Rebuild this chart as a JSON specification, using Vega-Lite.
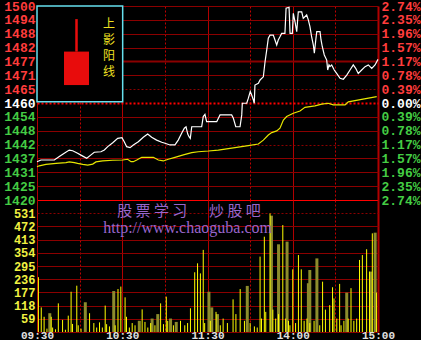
{
  "$schema": "https://vega.github.io/schema/vega-lite/v6.json",
  "background": "#000000",
  "padding": {"left": 0, "top": 0, "right": 0, "bottom": 0},
  "spacing": 0,
  "bounds": "flush",
  "config": {
    "view": {"stroke": null},
    "axis": {
      "domain": false,
      "ticks": false,
      "title": null,
      "labelFont": "Liberation Mono",
      "labelFontWeight": "bold",
      "labelFontSize": 13,
      "labelPadding": 2,
      "labelOverlap": false,
      "labelBound": false,
      "labelFlush": false,
      "tickCount": 60,
      "gridColor": "#8b0000",
      "gridOpacity": 1
    }
  },
  "datasets": {
    "price": [
      {"t":0,"p":1435.8},{"t":2.8,"p":1436.5},{"t":12.2,"p":1436.5},{"t":15.7,"p":1437.9},{"t":19.2,"p":1439.3},{"t":22.7,"p":1440.6},{"t":25.1,"p":1440.3},{"t":28.6,"p":1439.3},{"t":32.2,"p":1438.1},{"t":35.0,"p":1437.2},{"t":38.0,"p":1438.6},{"t":40.3,"p":1439.7},{"t":45.0,"p":1439.9},{"t":47.4,"p":1440.6},{"t":49.8,"p":1442.0},{"t":53.3,"p":1443.6},{"t":56.8,"p":1445.4},{"t":59.8,"p":1445.7},{"t":61.4,"p":1444.0},{"t":63.1,"p":1442.0},{"t":65.5,"p":1441.6},{"t":67.8,"p":1442.7},{"t":71.3,"p":1444.0},{"t":74.8,"p":1445.9},{"t":77.9,"p":1447.2},{"t":80.7,"p":1445.9},{"t":84.2,"p":1444.7},{"t":87.8,"p":1443.8},{"t":90.1,"p":1443.4},{"t":93.6,"p":1442.7},{"t":97.1,"p":1442.7},{"t":99.4,"p":1444.7},{"t":101.8,"p":1447.5},{"t":103.7,"p":1449.6},{"t":104.9,"p":1450.2},{"t":106.1,"p":1447.2},{"t":107.0,"p":1446.1},{"t":107.9,"p":1445.4},{"t":108.9,"p":1450.2},{"t":115.9,"p":1450.2},{"t":117.0,"p":1454.4},{"t":118.2,"p":1455.3},{"t":119.4,"p":1452.3},{"t":126.5,"p":1452.3},{"t":128.8,"p":1455.1},{"t":137.0,"p":1455.1},{"t":138.2,"p":1453.7},{"t":139.9,"p":1450.2},{"t":142.9,"p":1450.2},{"t":144.1,"p":1455.1},{"t":144.5,"p":1459.9},{"t":147.6,"p":1459.9},{"t":148.7,"p":1461.9},{"t":150.1,"p":1464.7},{"t":151.1,"p":1463.3},{"t":152.3,"p":1461.2},{"t":152.9,"p":1459.9},{"t":153.4,"p":1467.4},{"t":155.8,"p":1468.1},{"t":157.0,"p":1469.5},{"t":159.3,"p":1470.8},{"t":160.5,"p":1477.0},{"t":161.7,"p":1481.9},{"t":162.8,"p":1486.7},{"t":164.0,"p":1488.0},{"t":166.3,"p":1488.0},{"t":167.5,"p":1486.0},{"t":168.7,"p":1483.9},{"t":169.8,"p":1486.0},{"t":171.0,"p":1487.3},{"t":172.2,"p":1488.7},{"t":174.5,"p":1488.7},{"t":175.3,"p":1499.1},{"t":177.4,"p":1499.5},{"t":178.1,"p":1488.7},{"t":179.7,"p":1488.7},{"t":180.4,"p":1497.0},{"t":181.6,"p":1493.5},{"t":182.8,"p":1489.4},{"t":183.9,"p":1497.6},{"t":186.3,"p":1497.6},{"t":187.4,"p":1494.9},{"t":189.8,"p":1496.3},{"t":191.0,"p":1494.2},{"t":192.1,"p":1491.5},{"t":193.3,"p":1487.3},{"t":194.5,"p":1483.9},{"t":195.2,"p":1480.5},{"t":196.2,"p":1486.0},{"t":196.9,"p":1489.4},{"t":199.2,"p":1489.4},{"t":199.9,"p":1486.0},{"t":200.8,"p":1483.2},{"t":202.2,"p":1479.8},{"t":203.9,"p":1477.7},{"t":204.6,"p":1473.6},{"t":205.5,"p":1475.7},{"t":206.2,"p":1475.0},{"t":207.4,"p":1475.7},{"t":209.2,"p":1473.6},{"t":210.9,"p":1472.2},{"t":213.3,"p":1470.2},{"t":215.6,"p":1469.8},{"t":218.0,"p":1471.5},{"t":220.3,"p":1473.6},{"t":222.6,"p":1475.7},{"t":224.3,"p":1474.3},{"t":226.1,"p":1472.2},{"t":228.5,"p":1473.6},{"t":230.9,"p":1475.0},{"t":233.2,"p":1475.7},{"t":235.6,"p":1474.3},{"t":237.9,"p":1475.7},{"t":240.0,"p":1478.0}
    ],
    "avg": [
      {"t":0,"a":1433.7},{"t":1.6,"a":1434.1},{"t":6.3,"a":1434.7},{"t":13.4,"a":1435.1},{"t":20.4,"a":1435.4},{"t":22.7,"a":1435.7},{"t":26.3,"a":1435.4},{"t":28.6,"a":1435.1},{"t":32.2,"a":1434.7},{"t":35.7,"a":1434.4},{"t":39.2,"a":1434.8},{"t":41.5,"a":1435.7},{"t":46.2,"a":1436.1},{"t":53.3,"a":1436.4},{"t":60.3,"a":1436.5},{"t":63.8,"a":1436.8},{"t":66.2,"a":1435.8},{"t":67.8,"a":1435.8},{"t":70.2,"a":1436.5},{"t":73.7,"a":1437.6},{"t":81.9,"a":1437.6},{"t":85.4,"a":1436.5},{"t":88.9,"a":1436.1},{"t":92.4,"a":1436.8},{"t":97.1,"a":1437.6},{"t":103.0,"a":1438.6},{"t":108.9,"a":1439.5},{"t":113.5,"a":1439.9},{"t":120.6,"a":1440.2},{"t":127.6,"a":1440.6},{"t":132.3,"a":1441.0},{"t":139.4,"a":1441.6},{"t":148.7,"a":1442.4},{"t":155.8,"a":1443.1},{"t":159.3,"a":1444.7},{"t":162.8,"a":1446.8},{"t":165.2,"a":1447.8},{"t":168.7,"a":1448.5},{"t":171.0,"a":1449.6},{"t":173.4,"a":1453.0},{"t":175.7,"a":1454.4},{"t":180.4,"a":1455.8},{"t":185.1,"a":1456.7},{"t":188.6,"a":1458.2},{"t":195.7,"a":1458.8},{"t":200.4,"a":1459.5},{"t":205.0,"a":1459.9},{"t":208.5,"a":1459.2},{"t":216.8,"a":1459.2},{"t":219.1,"a":1460.5},{"t":228.5,"a":1461.5},{"t":239.1,"a":1462.6}
    ],
    "volY": [
      {"t":1,"v":245},{"t":3,"v":110},{"t":5,"v":68},{"t":7,"v":15},{"t":10,"v":68},{"t":11,"v":20},{"t":13,"v":12},{"t":15,"v":128},{"t":18,"v":54},{"t":20,"v":10},{"t":22,"v":73},{"t":24,"v":180},{"t":25,"v":36},{"t":28,"v":207},{"t":29,"v":30},{"t":31,"v":15},{"t":37,"v":84},{"t":40,"v":40},{"t":42,"v":20},{"t":44,"v":43},{"t":46,"v":20},{"t":48,"v":118},{"t":49,"v":35},{"t":51,"v":25},{"t":55,"v":30},{"t":57,"v":192},{"t":59,"v":203},{"t":62,"v":155},{"t":63,"v":68},{"t":65,"v":20},{"t":67,"v":40},{"t":69,"v":30},{"t":74,"v":101},{"t":76,"v":45},{"t":78,"v":20},{"t":80,"v":40},{"t":83,"v":30},{"t":87,"v":128},{"t":89,"v":35},{"t":91,"v":158},{"t":92,"v":50},{"t":96,"v":30},{"t":101,"v":50},{"t":104,"v":30},{"t":106,"v":40},{"t":108,"v":106},{"t":111,"v":267},{"t":113,"v":307},{"t":115,"v":262},{"t":117,"v":367},{"t":118,"v":40},{"t":122,"v":50},{"t":126,"v":90},{"t":129,"v":30},{"t":131,"v":60},{"t":134,"v":40},{"t":138,"v":146},{"t":140,"v":80},{"t":143,"v":192},{"t":146,"v":50},{"t":150,"v":40},{"t":153,"v":25},{"t":155,"v":20},{"t":157,"v":337},{"t":158,"v":60},{"t":160,"v":426},{"t":161,"v":90},{"t":164,"v":530},{"t":166,"v":100},{"t":168,"v":60},{"t":170,"v":80},{"t":173,"v":478},{"t":175,"v":60},{"t":177,"v":50},{"t":178,"v":30},{"t":180,"v":280},{"t":182,"v":40},{"t":184,"v":344},{"t":186,"v":280},{"t":188,"v":50},{"t":190,"v":60},{"t":192,"v":40},{"t":195,"v":50},{"t":199,"v":30},{"t":201,"v":225},{"t":203,"v":100},{"t":206,"v":120},{"t":208,"v":200},{"t":209,"v":150},{"t":211,"v":60},{"t":213,"v":215},{"t":214,"v":30},{"t":216,"v":50},{"t":219,"v":60},{"t":221,"v":196},{"t":223,"v":50},{"t":225,"v":60},{"t":227,"v":322},{"t":229,"v":344},{"t":232,"v":370},{"t":234,"v":270},{"t":236,"v":441},{"t":239,"v":176}
    ],
    "volO": [
      {"t":9,"v":84},{"t":34,"v":133},{"t":54,"v":183},{"t":72,"v":50},{"t":81,"v":60},{"t":85,"v":80},{"t":94,"v":60},{"t":98,"v":45},{"t":121,"v":180},{"t":123,"v":110},{"t":127,"v":80},{"t":148,"v":206},{"t":165,"v":520},{"t":170,"v":392},{"t":176,"v":404},{"t":191,"v":218},{"t":192,"v":277},{"t":197,"v":329},{"t":218,"v":176},{"t":235,"v":270},{"t":238,"v":444}
    ]
  },
  "vconcat": [
    {
      "width": 341,
      "height": 194,
      "layer": [
        {
          "layer": [
            {
              "data": {"name": "price"},
              "mark": {"type": "line", "color": "#ffffff", "strokeWidth": 1.2},
              "encoding": {
                "x": {
                  "field": "t", "type": "quantitative",
                  "scale": {"domain": [0, 240], "nice": false, "zero": false},
                  "axis": {
                    "values": [0, 30, 60, 90, 120, 150, 180, 210, 240],
                    "tickCount": 60,
                    "labels": false,
                    "grid": true,
                    "gridColor": {"condition": {"test": "datum.value % 60 != 0", "value": "#c00000"}, "value": "#b00000"},
                    "gridDash": {"condition": {"test": "datum.value % 60 != 0", "value": [2, 2]}, "value": []},
                    "gridWidth": {"condition": {"test": "datum.value == 240", "value": 2}, "value": 1}
                  }
                },
                "y": {
                  "field": "p", "type": "quantitative",
                  "scale": {"domain": [1420, 1500], "nice": false, "zero": false},
                  "axis": {
                    "values": [1420, 1425.714, 1431.429, 1437.143, 1442.857, 1448.571, 1454.286, 1460, 1465.714, 1471.429, 1477.143, 1482.857, 1488.571, 1494.286, 1500],
                    "tickCount": 60,
                    "labelExpr": "'' + floor(datum.value + 0.001)",
                    "labelColor": {"condition": [{"test": "datum.value > 1460.5", "value": "#ff3c3c"}, {"test": "datum.value < 1459.5", "value": "#44cc44"}], "value": "#ffffff"},
                    "grid": true,
                    "gridColor": {"condition": {"test": "datum.value == 1460 || datum.value == 1420", "value": "#ff0000"}, "value": "#8b0000"},
                    "gridDash": {"condition": {"test": "abs(datum.value - 1465.714) < 0.01 || abs(datum.value - 1442.857) < 0.01 || datum.value == 1460", "value": [2, 2]}, "value": []},
                    "gridWidth": {"condition": {"test": "abs(datum.value - 1477.143) < 0.01 || datum.value == 1460", "value": 2}, "value": 1},
                    "minExtent": 37,
                    "maxExtent": 37
                  }
                }
              }
            },
            {
              "data": {"values": [{}]},
              "mark": {"type": "rect", "fill": "#000000", "stroke": "#66e0ee", "strokeWidth": 1.5},
              "encoding": {
                "x": {"datum": 0, "type": "quantitative"},
                "x2": {"datum": 60.3},
                "y": {"datum": 1460.5, "type": "quantitative"},
                "y2": {"datum": 1500}
              }
            },
            {
              "data": {"values": [{}]},
              "mark": {"type": "rule", "color": "#e80c0c", "strokeWidth": 2.5},
              "encoding": {
                "x": {"datum": 27.8, "type": "quantitative"},
                "y": {"datum": 1481.2, "type": "quantitative"},
                "y2": {"datum": 1494.6}
              }
            },
            {
              "data": {"values": [{}]},
              "mark": {"type": "rect", "fill": "#e80c0c"},
              "encoding": {
                "x": {"datum": 19, "type": "quantitative"},
                "x2": {"datum": 36.6},
                "y": {"datum": 1467.4, "type": "quantitative"},
                "y2": {"datum": 1481.2}
              }
            },
            {
              "data": {"values": [{}]},
              "mark": {"type": "text", "text": ["上", "影", "阳", "线"], "color": "#f0e020", "font": "Noto Sans CJK SC", "fontSize": 12, "lineHeight": 16, "baseline": "middle", "align": "center"},
              "encoding": {
                "x": {"datum": 50.7, "type": "quantitative"},
                "y": {"datum": 1492.6, "type": "quantitative"}
              }
            }
          ]
        },
        {
          "data": {"name": "avg"},
          "mark": {"type": "line", "color": "#e6e600", "strokeWidth": 1.2},
          "encoding": {
            "x": {"field": "t", "type": "quantitative"},
            "y": {
              "field": "a", "type": "quantitative",
              "scale": {"domain": [1420, 1500], "nice": false, "zero": false},
              "axis": {
                "orient": "right",
                "values": [1420, 1425.714, 1431.429, 1437.143, 1442.857, 1448.571, 1454.286, 1460, 1465.714, 1471.429, 1477.143, 1482.857, 1488.571, 1494.286, 1500],
                "tickCount": 60,
                "labelExpr": "format(abs(datum.value - 1460) / 1460 * 100, '.2f') + '%'",
                "labelColor": {"condition": [{"test": "datum.value > 1460.5", "value": "#ff3c3c"}, {"test": "datum.value < 1459.5", "value": "#44cc44"}], "value": "#ffffff"},
                "labelPadding": 3,
                "grid": false
              }
            }
          }
        }
      ],
      "resolve": {"scale": {"y": "independent"}}
    },
    {
      "width": 341,
      "height": 132,
      "layer": [
        {
          "data": {"name": "volO"},
          "mark": {"type": "rule", "color": "#8c8c2c", "strokeWidth": 3},
          "encoding": {
            "x": {
              "field": "t", "type": "quantitative",
              "scale": {"domain": [0, 240], "nice": false, "zero": false},
              "axis": {
                "values": [0, 30, 60, 90, 120, 150, 180, 210, 240],
                "tickCount": 60,
                "labelExpr": "datum.value == 0 ? '09:30' : datum.value == 60 ? '10:30' : datum.value == 120 ? '11:30' : datum.value == 180 ? '14:00' : datum.value == 240 ? '15:00' : ''",
                "labelColor": "#e0e0e0",
                "labelFontSize": 11,
                "labelPadding": -3,
                "labelBaseline": "top",
                "grid": true,
                "gridColor": {"condition": {"test": "datum.value % 60 != 0", "value": "#c00000"}, "value": "#b00000"},
                "gridDash": {"condition": {"test": "datum.value % 60 != 0", "value": [2, 2]}, "value": []},
                "gridWidth": {"condition": {"test": "datum.value == 240", "value": 2}, "value": 1}
              }
            },
            "y": {
              "field": "v", "type": "quantitative",
              "scale": {"domain": [0, 590], "nice": false, "zero": true},
              "axis": {
                "values": [0, 59, 118, 177, 236, 295, 354, 413, 472, 531],
                "tickCount": 60,
                "labelExpr": "datum.value == 0 ? '' : datum.label",
                "labelColor": "#f0f040",
                "labelFontSize": 12,
                "grid": true,
                "gridDash": {"condition": {"test": "datum.value == 531", "value": [2, 2]}, "value": []},
                "minExtent": 37,
                "maxExtent": 37
              }
            },
            "y2": {"datum": 0}
          }
        },
        {
          "data": {"name": "volY"},
          "mark": {"type": "rule", "color": "#ffff00", "strokeWidth": 1},
          "encoding": {
            "x": {"field": "t", "type": "quantitative"},
            "y": {"field": "v", "type": "quantitative"},
            "y2": {"datum": 0}
          }
        },
        {
          "data": {"values": [{}]},
          "mark": {"type": "text", "text": "股 票 学 习 　  炒 股 吧", "color": "#9966cc", "font": "Noto Sans CJK SC", "fontSize": 15, "baseline": "middle", "align": "center"},
          "encoding": {
            "x": {"datum": 107, "type": "quantitative"},
            "y": {"datum": 543, "type": "quantitative"}
          }
        },
        {
          "data": {"values": [{}]},
          "mark": {"type": "text", "text": "http://www.chaoguba.com", "color": "#9966cc", "font": "Liberation Serif", "fontSize": 16, "baseline": "middle", "align": "center"},
          "encoding": {
            "x": {"datum": 106, "type": "quantitative"},
            "y": {"datum": 463, "type": "quantitative"}
          }
        }
      ]
    }
  ]
}
